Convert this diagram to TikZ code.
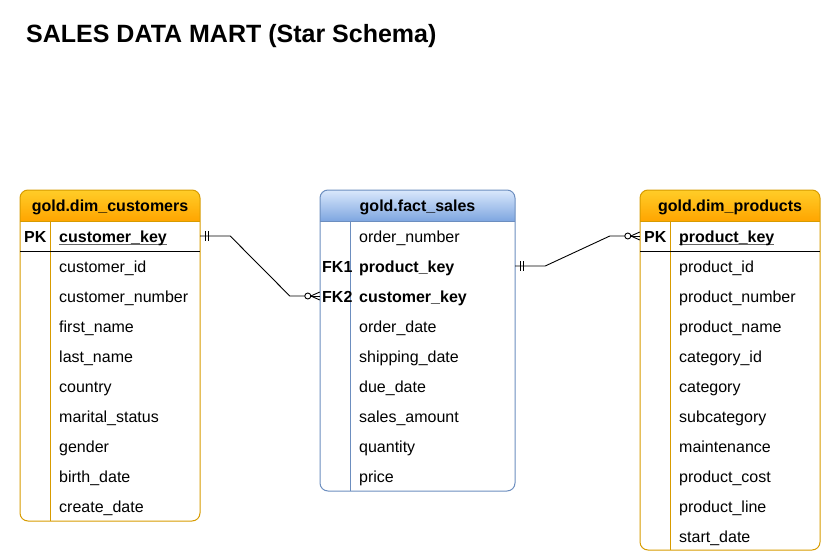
\documentclass[tikz,border=0pt]{standalone}
\usepackage{fontspec}
\setmainfont{Liberation Sans}
\usetikzlibrary{calc}
\definecolor{ostroke}{HTML}{D79B00}
\definecolor{otop}{HTML}{FFCD28}
\definecolor{obot}{HTML}{FFA500}
\definecolor{bstroke}{HTML}{6C8EBF}
\definecolor{btop}{HTML}{DAE8FC}
\definecolor{bbot}{HTML}{7EA6E0}
\definecolor{ulgray}{HTML}{666666}
\newcommand{\keyul}[1]{{\setbox0\hbox{#1}\rlap{\color{ulgray}\rule[-3pt]{\wd0}{1.2pt}}\box0}}
\begin{document}
\begin{tikzpicture}[x=1pt,y=-1pt,
  fld/.style={anchor=base west, inner sep=0pt, font=\fontsize{16}{19}\selectfont},
  keyfld/.style={fld, font=\fontsize{16}{19}\selectfont\bfseries},
  hdr/.style={anchor=base, inner sep=0pt, font=\fontsize{16}{19}\selectfont\bfseries},
  frame/.style={inner sep=0pt, minimum width=#1},
  border/.style={line width=1pt, rounded corners=8pt},
  conn/.style={black, line width=0.9pt},
  mk/.style={black, line width=0.9pt}]
\useasboundingbox (0,0) rectangle (821,551);
\node[anchor=base west, inner sep=0pt, font=\fontsize{25}{30}\selectfont\bfseries] (title) at (26,42) {SALES DATA MART (Star Schema)};

% ---------- gold.dim_customers ----------
\begin{scope}
\clip[rounded corners=8pt] (20,190) rectangle (200,521);
\shade[top color=otop,bottom color=obot] (20,190) rectangle (200,221);
\end{scope}
\draw[ostroke, border] (20,190) rectangle (200,521);
\draw[ostroke, line width=1pt] (20,221) -- (200,221);
\draw[ostroke, line width=1pt] (50,221) -- (50,521);
\draw[black, line width=1pt] (20,251) -- (200,251);
\node[frame=180pt, minimum height=331pt] (cust) at (110,355.5) {};
\node[hdr] (custH) at (110,211.5) {gold.dim\_customers};
\node[keyfld] (custPK) at (24,242) {PK};
\node[keyfld] (ck) at (59,242) {\keyul{customer\_key}};
\foreach \t [count=\i] in {customer\_id,customer\_number,first\_name,last\_name,country,marital\_status,gender,birth\_date,create\_date}
  \node[fld] (c\i) at (59,242+30*\i) {\t};

% ---------- gold.fact_sales ----------
\begin{scope}
\clip[rounded corners=8pt] (320,190) rectangle (515,491);
\shade[top color=btop,bottom color=bbot] (320,190) rectangle (515,221);
\end{scope}
\draw[bstroke, border] (320,190) rectangle (515,491);
\draw[bstroke, line width=1pt] (320,221) -- (515,221);
\draw[bstroke, line width=1pt] (350,221) -- (350,491);
\node[frame=195pt, minimum height=301pt] (fact) at (417.5,340.5) {};
\node[hdr] (factH) at (417.5,211.5) {gold.fact\_sales};
\node[fld] (f0) at (359,242) {order\_number};
\node[keyfld] (fk1l) at (322,272) {FK1};
\node[keyfld] (fk1) at (359,272) {product\_key};
\node[keyfld] (fk2l) at (322,302) {FK2};
\node[keyfld] (fk2) at (359,302) {customer\_key};
\foreach \t [count=\i] in {order\_date,shipping\_date,due\_date,sales\_amount,quantity,price}
  \node[fld] (f\i) at (359,302+30*\i) {\t};

% ---------- gold.dim_products ----------
\begin{scope}
\clip[rounded corners=8pt] (640,190) rectangle (820,550);
\shade[top color=otop,bottom color=obot] (640,190) rectangle (820,221);
\end{scope}
\draw[ostroke, border] (640,190) rectangle (820,550);
\draw[ostroke, line width=1pt] (640,221) -- (820,221);
\draw[ostroke, line width=1pt] (670,221) -- (670,550);
\draw[black, line width=1pt] (640,251) -- (820,251);
\node[frame=180pt, minimum height=360pt] (prod) at (730,370) {};
\node[hdr] (prodH) at (730,211.5) {gold.dim\_products};
\node[keyfld] (prodPK) at (644,242) {PK};
\node[keyfld] (pk) at (679,242) {\keyul{product\_key}};
\foreach \t [count=\i] in {product\_id,product\_number,product\_name,category\_id,category,subcategory,maintenance,product\_cost,product\_line,start\_date}
  \node[fld] (p\i) at (679,242+30*\i) {\t};

% ---------- connectors ----------
\coordinate (a1) at (cust.east |- 0,236);
\coordinate (a2) at (fact.west |- 0,296);
\draw[conn] (a1) -- ++(30,0) -- ($(a2)+(-30,0)$) -- ($(a2)+(-15,0)$);
\draw[mk] ([xshift=5pt]a1) ++(0,-5) -- ++(0,10);
\draw[mk] ([xshift=8pt]a1) ++(0,-5) -- ++(0,10);
\draw[mk] ($(a2)+(-12,0)$) circle (3pt);
\draw[mk] ($(a2)+(-9,0)$) -- (a2);
\draw[mk] ($(a2)+(-9,0)$) -- ($(a2)+(0,-4)$);
\draw[mk] ($(a2)+(-9,0)$) -- ($(a2)+(0,4)$);

\coordinate (b1) at (fact.east |- 0,266);
\coordinate (b2) at (prod.west |- 0,236);
\draw[conn] (b1) -- ++(30,0) -- ($(b2)+(-30,0)$) -- ($(b2)+(-15,0)$);
\draw[mk] ([xshift=5pt]b1) ++(0,-5) -- ++(0,10);
\draw[mk] ([xshift=8pt]b1) ++(0,-5) -- ++(0,10);
\draw[mk] ($(b2)+(-12,0)$) circle (3pt);
\draw[mk] ($(b2)+(-9,0)$) -- (b2);
\draw[mk] ($(b2)+(-9,0)$) -- ($(b2)+(0,-4)$);
\draw[mk] ($(b2)+(-9,0)$) -- ($(b2)+(0,4)$);
\end{tikzpicture}
\end{document}
